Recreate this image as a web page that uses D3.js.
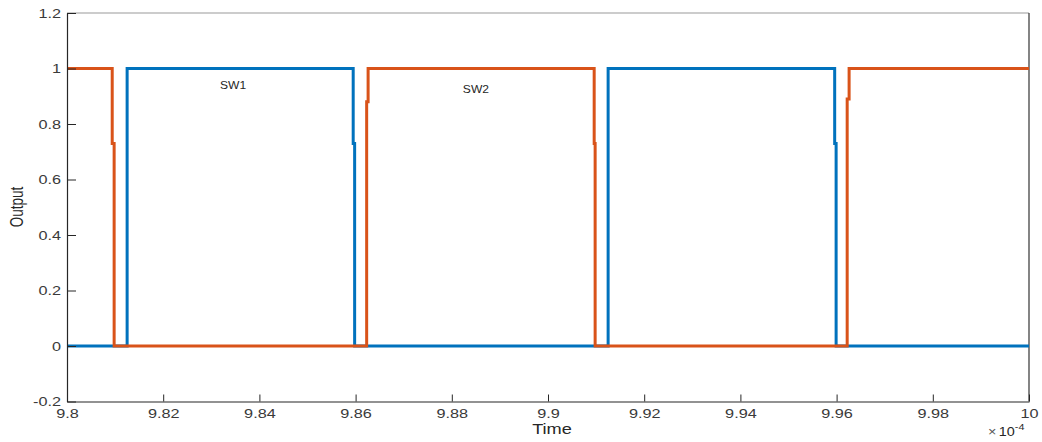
<!DOCTYPE html>
<html>
<head>
<meta charset="utf-8">
<script src="https://cdn.jsdelivr.net/npm/d3@7"></script>
<style>
  body { margin: 0; background: #fff; }
  text { font-family: "Liberation Sans", Arial, sans-serif; fill: #262626; }
</style>
</head>
<body>
<svg class="chart"></svg>
<script>
// time in units of 1e-4 s
var sw1Times = [9.8, 9.8125, 9.8595, 9.8598, 9.9125, 9.9596, 9.9599, 10];
var sw1Values = [0, 1, 0.73, 0, 1, 0.73, 0, 0];
var sw2Times = [9.8, 9.8094, 9.8098, 9.8623, 9.8626, 9.9096, 9.9098, 9.9622, 9.9626, 10];
var sw2Values = [1, 0.73, 0, 0.88, 1, 0.73, 0, 0.89, 1, 1];
var xTicks = [9.8, 9.82, 9.84, 9.86, 9.88, 9.9, 9.92, 9.94, 9.96, 9.98, 10];
var yTicks = [-0.2, 0, 0.2, 0.4, 0.6, 0.8, 1, 1.2];
var labels = [{text: 'SW1', t: 9.8318, v: 0.925}, {text: 'SW2', t: 9.8823, v: 0.911}];

var chartWidth = 1042;
var chartHeight = 442;
var plotLeft = 67, plotRight = 1029, plotTop = 13, plotBottom = 401.5;
var stretch = 1.3;

var x = d3.scaleLinear().domain([9.8, 10]).range([plotLeft, plotRight]);
var y = d3.scaleLinear().domain([-0.2, 1.2]).range([plotBottom, plotTop]);

var chart = d3.select('.chart').attr('width', chartWidth).attr('height', chartHeight);
chart.append('rect').attr('width', chartWidth).attr('height', chartHeight).attr('fill', '#fff');

// box: top and right edges
chart.append('line').attr('x1', plotLeft).attr('x2', plotRight).attr('y1', plotTop).attr('y2', plotTop)
    .attr('stroke', '#9a9a9a').attr('stroke-width', 1.2);
chart.append('line').attr('x1', plotRight).attr('x2', plotRight).attr('y1', plotTop).attr('y2', plotBottom)
    .attr('stroke', '#333').attr('stroke-width', 1.2);

var line = d3.line()
    .x(d => x(d[0]))
    .y(d => y(d[1]))
    .curve(d3.curveStepAfter);

function pairs(ts, vs) {
  return ts.map((t, i) => [t, vs[i]]);
}

chart.append('path')
    .datum(pairs(sw1Times, sw1Values))
    .attr('d', line)
    .attr('fill', 'none')
    .attr('stroke', '#0072BD')
    .attr('stroke-width', 3);

chart.append('path')
    .datum(pairs(sw2Times, sw2Values))
    .attr('d', line)
    .attr('fill', 'none')
    .attr('stroke', '#D95319')
    .attr('stroke-width', 3);

// axes
var xAxis = d3.axisBottom(x).tickValues(xTicks).tickSizeInner(-7).tickSizeOuter(0)
    .tickFormat(d => String(+d.toFixed(2)));
var yAxis = d3.axisLeft(y).tickValues(yTicks).tickSizeInner(-9).tickSizeOuter(0)
    .tickPadding(6).tickFormat(d => String(+d.toFixed(1)));

var gx = chart.append('g')
    .attr('transform', 'translate(0,' + plotBottom + ')')
    .call(xAxis);
var gy = chart.append('g')
    .attr('transform', 'translate(' + plotLeft + ',0)')
    .call(yAxis);

[gx, gy].forEach(g => {
  g.attr('font-family', null).attr('font-size', null);
  g.select('.domain').attr('stroke', '#262626').attr('stroke-width', 1.2);
  g.selectAll('.tick line').attr('stroke', '#262626');
  g.selectAll('.tick text')
      .style('font-size', '12.5px')
      .style('fill', '#3a3a3a');
});
gx.selectAll('.tick text').attr('y', 0).attr('dy', null)
    .attr('transform', 'translate(0,16) scale(' + stretch + ',1)');
gy.selectAll('.tick text').each(function() {
  var t = d3.select(this);
  var xx = +t.attr('x');
  t.attr('x', xx / stretch).attr('transform', 'scale(' + stretch + ',1)');
});

// axis labels
chart.append('text')
    .attr('transform', 'translate(' + ((plotLeft + plotRight) / 2 + 4) + ',434) scale(' + stretch + ',1)')
    .attr('text-anchor', 'middle')
    .style('font-size', '14px')
    .text('Time');

chart.append('text')
    .attr('transform', 'translate(23,207) rotate(-90) scale(1,' + stretch + ')')
    .attr('text-anchor', 'middle')
    .style('font-size', '13.5px')
    .text('Output');

var expo = chart.append('text')
    .attr('transform', 'translate(988,436) scale(1.2,1)')
    .style('font-size', '12px');
expo.append('tspan').style('fill', '#555').text('\u00d7');
expo.append('tspan').attr('dx', 2).text('10');
expo.append('tspan').attr('dy', -6).style('font-size', '9px').text('-4');

// series annotations
chart.selectAll('text.sw')
    .data(labels)
    .join('text')
    .attr('class', 'sw')
    .attr('transform', d => 'translate(' + x(d.t) + ',' + y(d.v) + ') scale(1.15,1)')
    .style('font-size', '10.5px')
    .text(d => d.text);
</script>
</body>
</html>
